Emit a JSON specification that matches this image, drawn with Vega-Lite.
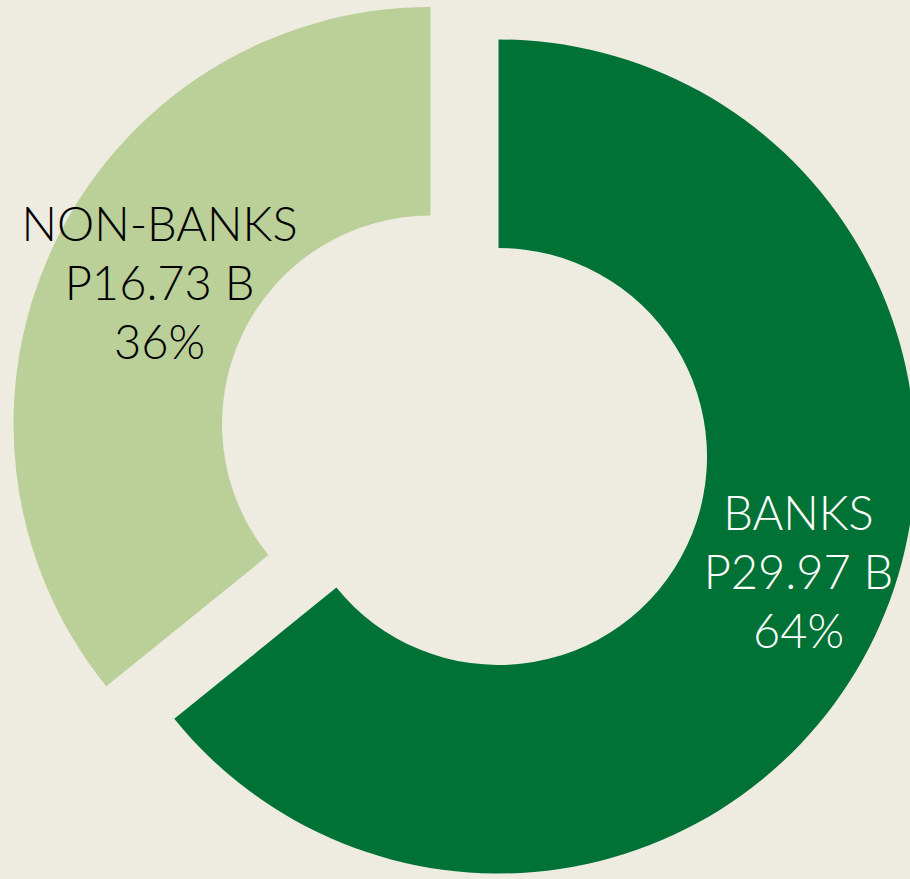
{
  "$schema": "https://vega.github.io/schema/vega-lite/v6.json",
  "width": 910,
  "height": 879,
  "padding": 0,
  "autosize": {"type": "fit", "contains": "padding"},
  "background": "#EEEBE1",
  "view": {"stroke": null},
  "data": {
    "values": [
      {"sector": "BANKS", "value": 29.97, "order": 1, "label": "BANKS\nP29.97 B\n64%"},
      {"sector": "NON-BANKS", "value": 16.73, "order": 2, "label": "NON-BANKS\nP16.73 B\n36%"}
    ]
  },
  "transform": [
    {"stack": "value", "groupby": [], "sort": [{"field": "order", "order": "ascending"}], "as": ["v0", "v1"]}
  ],
  "layer": [
    {
      "transform": [{"filter": "datum.sector === 'BANKS'"}],
      "mark": {"type": "arc", "outerRadius": 417, "innerRadius": 208.5, "xOffset": 49.5, "yOffset": 17},
      "encoding": {
        "theta": {"field": "v0", "type": "quantitative", "scale": {"domain": [0, 46.7]}},
        "theta2": {"field": "v1"},
        "color": {"field": "sector", "type": "nominal", "legend": null,
          "scale": {"domain": ["BANKS", "NON-BANKS"], "range": ["#007236", "#BBCF98"]}}
      }
    },
    {
      "transform": [{"filter": "datum.sector === 'NON-BANKS'"}],
      "mark": {"type": "arc", "outerRadius": 417, "innerRadius": 208.5, "xOffset": -18.5, "yOffset": -15.5},
      "encoding": {
        "theta": {"field": "v0", "type": "quantitative", "scale": {"domain": [0, 46.7]}},
        "theta2": {"field": "v1"},
        "color": {"field": "sector", "type": "nominal", "legend": null,
          "scale": {"domain": ["BANKS", "NON-BANKS"], "range": ["#007236", "#BBCF98"]}}
      }
    },
    {
      "mark": {"type": "text", "radius": 313,
        "dx": {"expr": "datum.sector === 'BANKS' ? 67 : -7"},
        "dy": {"expr": "datum.sector === 'BANKS' ? -58.5 : -77.8"},
        "font": "Lato", "fontWeight": 300, "fontSize": 47, "lineHeight": 59, "lineBreak": "\n",
        "align": "center", "baseline": "middle"},
      "encoding": {
        "theta": {"field": "value", "type": "quantitative", "stack": true, "scale": {"domain": [0, 46.7]}},
        "order": {"field": "order", "type": "quantitative"},
        "text": {"field": "label"},
        "color": {"condition": {"test": "datum.sector === 'BANKS'", "value": "#FFFFFF"}, "value": "#000000"}
      }
    }
  ]
}
